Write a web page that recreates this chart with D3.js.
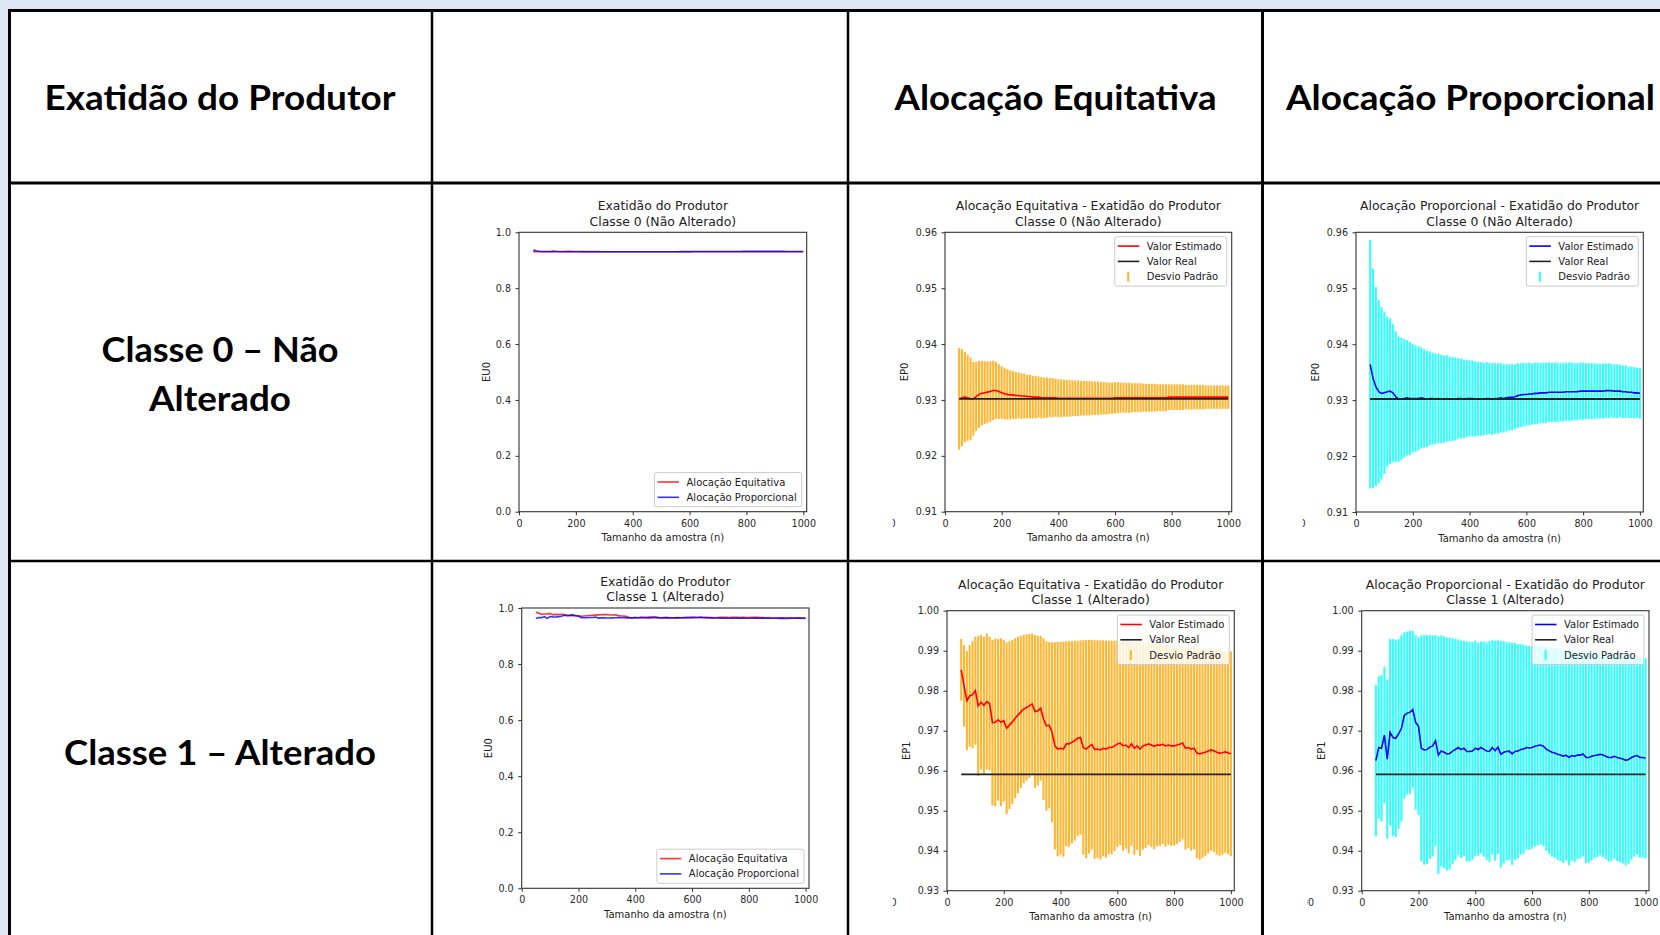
<!DOCTYPE html>
<html>
<head>
<meta charset="utf-8">
<script src="https://cdn.jsdelivr.net/npm/d3@7"></script>
<style>
  body { margin: 0; background: #dde8f4; overflow: hidden; }
</style>
</head>
<body>
<div id="viz-container"></div>
<script>
console.log('js loaded');

// ---------- data ----------
let sampleSizes = [50,60,70,80,90,100,110,120,130,140,
  150,160,170,180,190,200,210,220,230,240,
  250,260,270,280,290,300,310,320,330,340,
  350,360,370,380,390,400,410,420,430,440,
  450,460,470,480,490,500,510,520,530,540,
  550,560,570,580,590,600,610,620,630,640,
  650,660,670,680,690,700,710,720,730,740,
  750,760,770,780,790,800,810,820,830,840,
  850,860,870,880,890,900,910,920,930,940,
  950,960,970,980,990,1000];

// classe 0, alocação equitativa
let eqMean0 = [.9302,.9304,.9305,.9304,.9302,.9302,.9306,.9310,.9312,.9313,
  .9314,.9315,.9317,.9317,.9315,.9313,.9311,.9310,.9309,.9309,
  .9308,.9308,.9307,.9307,.9306,.9306,.9305,.9305,.9305,.9304,
  .9304,.9304,.9304,.9304,.9304,.9303,.9303,.9303,.9303,.9303,
  .9303,.9303,.9303,.9303,.9303,.9303,.9303,.9303,.9303,.9303,
  .9303,.9303,.9303,.9303,.9303,.9304,.9304,.9304,.9304,.9304,
  .9304,.9304,.9304,.9304,.9304,.9304,.9304,.9304,.9304,.9304,
  .9304,.9304,.9304,.9304,.9305,.9305,.9305,.9305,.9305,.9305,
  .9305,.9305,.9305,.9305,.9305,.9305,.9305,.9305,.9305,.9305,
  .9305,.9305,.9305,.9305,.9305,.9305];
let eqStd0 = [.0091,.0087,.0081,.0077,.0074,.0066,.0062,.0060,.0058,.0056,
  .0055,.0054,.0053,.0051,.0049,.0047,.0046,.0045,.0044,.0043,
  .0042,.0041,.0041,.0040,.0039,.0039,.0038,.0038,.0037,.0037,
  .0036,.0036,.0035,.0035,.0034,.0034,.0034,.0033,.0033,.0033,
  .0032,.0032,.0032,.0031,.0031,.0031,.0031,.0030,.0030,.0030,
  .0029,.0029,.0029,.0028,.0028,.0028,.0028,.0027,.0027,.0027,
  .0027,.0026,.0026,.0026,.0026,.0025,.0025,.0025,.0025,.0025,
  .0024,.0024,.0024,.0024,.0023,.0023,.0023,.0023,.0023,.0023,
  .0022,.0022,.0022,.0022,.0022,.0022,.0022,.0021,.0021,.0021,
  .0021,.0021,.0021,.0021,.0021,.0021];

// classe 0, alocação proporcional
let propMean0 = [.9364,.9339,.9324,.9315,.9312,.9313,.9315,.9316,.9313,.9306,
  .9302,.9302,.9303,.9304,.9303,.9303,.9303,.9303,.9304,.9303,
  .9302,.9303,.9303,.9302,.9303,.9302,.9302,.9303,.9302,.9302,
  .9302,.9303,.9303,.9302,.9303,.9303,.9303,.9302,.9302,.9302,
  .9302,.9303,.9303,.9302,.9303,.9303,.9304,.9303,.9304,.9305,
  .9305,.9306,.9308,.9309,.9310,.9310,.9311,.9311,.9312,.9312,
  .9313,.9313,.9313,.9314,.9314,.9314,.9314,.9314,.9314,.9315,
  .9315,.9315,.9315,.9315,.9316,.9316,.9316,.9316,.9316,.9316,
  .9316,.9316,.9316,.9317,.9317,.9317,.9316,.9316,.9316,.9315,
  .9315,.9314,.9314,.9313,.9313,.9312];
let propStd0 = [.0222,.0196,.0178,.0164,.0154,.0145,.0134,.0130,.0123,.0117,
  .0112,.0109,.0106,.0103,.0101,.0097,.0095,.0093,.0090,.0088,
  .0086,.0084,.0082,.0081,.0080,.0079,.0078,.0077,.0076,.0075,
  .0074,.0072,.0071,.0070,.0069,.0068,.0068,.0067,.0066,.0066,
  .0065,.0065,.0064,.0064,.0063,.0063,.0062,.0061,.0060,.0059,
  .0059,.0058,.0058,.0057,.0057,.0056,.0056,.0055,.0055,.0055,
  .0054,.0054,.0054,.0053,.0053,.0053,.0053,.0052,.0052,.0052,
  .0052,.0052,.0051,.0051,.0051,.0051,.0050,.0050,.0050,.0050,
  .0049,.0049,.0049,.0049,.0049,.0048,.0048,.0048,.0047,.0047,
  .0047,.0046,.0046,.0046,.0045,.0045];

// classe 1, alocação equitativa
let eqMean1 = [.9852,.9812,.9775,.9787,.9790,.9800,.9762,.9771,.9763,.9773,
  .9768,.9720,.9721,.9727,.9721,.9725,.9706,.9714,.9722,.9731,
  .9739,.9747,.9754,.9758,.9762,.9767,.9748,.9750,.9756,.9729,
  .9712,.9714,.9696,.9662,.9654,.9656,.9654,.9667,.9667,.9671,
  .9675,.9681,.9683,.9658,.9654,.9660,.9665,.9653,.9654,.9652,
  .9656,.9654,.9658,.9658,.9662,.9667,.9669,.9662,.9664,.9658,
  .9667,.9656,.9662,.9654,.9662,.9664,.9667,.9664,.9661,.9664,
  .9664,.9666,.9662,.9664,.9662,.9662,.9664,.9666,.9669,.9656,
  .9658,.9654,.9656,.9644,.9642,.9644,.9646,.9649,.9652,.9650,
  .9646,.9644,.9645,.9647,.9645,.9642];
let eqStd1 = [.0077,.0102,.0124,.0127,.0134,.0135,.0175,.0168,.0172,.0170,
  .0167,.0207,.0210,.0202,.0210,.0202,.0215,.0210,.0205,.0200,
  .0196,.0190,.0185,.0183,.0180,.0176,.0191,.0187,.0181,.0202,
  .0212,.0208,.0225,.0259,.0268,.0266,.0269,.0256,.0257,.0253,
  .0250,.0244,.0243,.0268,.0273,.0267,.0262,.0273,.0272,.0274,
  .0270,.0271,.0267,.0267,.0263,.0258,.0255,.0262,.0259,.0265,
  .0255,.0266,.0260,.0267,.0259,.0257,.0253,.0255,.0257,.0253,
  .0252,.0249,.0252,.0249,.0250,.0249,.0247,.0244,.0241,.0253,
  .0251,.0254,.0252,.0263,.0265,.0262,.0259,.0256,.0252,.0253,
  .0256,.0257,.0255,.0252,.0254,.0256];

// classe 1, alocação proporcional
let propMean1 = [.9625,.9658,.9656,.9689,.9629,.9696,.9683,.9681,.9692,.9706,
  .9738,.9744,.9746,.9753,.9721,.9711,.9656,.9652,.9653,.9659,
  .9662,.9675,.9639,.9649,.9646,.9642,.9643,.9649,.9653,.9658,
  .9653,.9656,.9648,.9648,.9649,.9656,.9653,.9658,.9654,.9649,
  .9648,.9658,.9650,.9659,.9641,.9646,.9648,.9649,.9642,.9648,
  .9649,.9653,.9654,.9658,.9657,.9658,.9661,.9663,.9664,.9661,
  .9654,.9650,.9646,.9644,.9641,.9639,.9636,.9639,.9633,.9638,
  .9636,.9639,.9639,.9642,.9633,.9633,.9636,.9638,.9639,.9641,
  .9639,.9636,.9633,.9633,.9636,.9633,.9631,.9629,.9626,.9628,
  .9633,.9636,.9638,.9633,.9633,.9631];
let propStd1 = [.0189,.0178,.0183,.0171,.0199,.0233,.0246,.0247,.0237,.0233,
  .0208,.0204,.0204,.0197,.0218,.0222,.0282,.0287,.0286,.0280,
  .0276,.0264,.0297,.0289,.0290,.0291,.0290,.0282,.0276,.0270,
  .0272,.0269,.0275,.0275,.0272,.0269,.0266,.0265,.0269,.0272,
  .0276,.0268,.0275,.0267,.0283,.0278,.0273,.0272,.0278,.0271,
  .0268,.0263,.0261,.0255,.0255,.0253,.0251,.0250,.0248,.0250,
  .0254,.0258,.0261,.0262,.0264,.0265,.0267,.0263,.0269,.0263,
  .0264,.0260,.0259,.0256,.0264,.0263,.0260,.0257,.0256,.0253,
  .0255,.0257,.0260,.0259,.0256,.0259,.0260,.0261,.0263,.0261,
  .0255,.0251,.0248,.0251,.0250,.0250];

let realEP0 = 0.9302;
let realEP1 = 0.9591;

let xTicks = [0, 200, 400, 600, 800, 1000];
let yTicksEU = [0, 0.2, 0.4, 0.6, 0.8, 1.0];
let yTicksEP0 = [0.91, 0.92, 0.93, 0.94, 0.95, 0.96];
let yTicksEP1 = [0.93, 0.94, 0.95, 0.96, 0.97, 0.98, 0.99, 1.00];

let columnHeaders = ['Exatidão do Produtor', 'Alocação Equitativa', 'Alocação Proporcional'];
let rowLabels = [['Classe 0 – Não', 'Alterado'], ['Classe 1 – Alterado']];
let compareLabels = ['Alocação Equitativa', 'Alocação Proporcional'];
let detailLabels = ['Valor Estimado', 'Valor Real', 'Desvio Padrão'];
let panelTitles = [
  ['Exatidão do Produtor', 'Classe 0 (Não Alterado)'],
  ['Alocação Equitativa - Exatidão do Produtor', 'Classe 0 (Não Alterado)'],
  ['Alocação Proporcional - Exatidão do Produtor', 'Classe 0 (Não Alterado)'],
  ['Exatidão do Produtor', 'Classe 1 (Alterado)'],
  ['Alocação Equitativa - Exatidão do Produtor', 'Classe 1 (Alterado)'],
  ['Alocação Proporcional - Exatidão do Produtor', 'Classe 1 (Alterado)']
];

// ---------- page ----------
let width = 1660;
let height = 935;
let mplFont = 'DejaVu Sans';

let viz = d3.select('#viz-container')
  .append('svg')
  .attr('width', width)
  .attr('height', height)
  .style('display', 'block');

viz.append('rect').attr('width', width).attr('height', height).attr('fill', '#dde8f4');
viz.append('rect').attr('x', 9).attr('y', 10).attr('width', width).attr('height', height).attr('fill', 'white');

// big table labels, squeezed to the width they take in the slide
function bigText(str, cx, cy, w) {
  viz.append('text')
    .text(str)
    .attr('x', cx)
    .attr('y', cy + 12.5)
    .attr('text-anchor', 'middle')
    .attr('font-family', 'Lato')
    .attr('font-weight', 700)
    .attr('font-size', 35)
    .attr('fill', 'black')
    .attr('textLength', w)
    .attr('lengthAdjust', 'spacingAndGlyphs');
}
bigText(columnHeaders[0], 220, 97, 351);
bigText(columnHeaders[1], 1055.5, 97, 322);
bigText(columnHeaders[2], 1470.5, 97, 369);
bigText(rowLabels[0][0], 220, 349, 237);
bigText(rowLabels[0][1], 220, 398, 142);
bigText(rowLabels[1][0], 220, 752, 312);

// ---------- charts ----------
let xMax = 1012;

function drawPanel(p) {
  let g = viz.append('g');
  let x = d3.scaleLinear().domain([0, xMax]).range([p.x0, p.x1]);
  let y = d3.scaleLinear().domain(p.dom).range([p.y1, p.y0]);

  if (p.std) {
    g.selectAll('.err').data(sampleSizes).enter()
      .append('line')
      .attr('class', 'err')
      .attr('x1', d => x(d))
      .attr('x2', d => x(d))
      .attr('y1', (d, i) => y(p.mean[i] - p.std[i]))
      .attr('y2', (d, i) => y(p.mean[i] + p.std[i]))
      .attr('stroke', p.errColor)
      .attr('stroke-opacity', 0.8)
      .attr('stroke-width', 2.1);
  }

  let line = d3.line()
    .x((d, i) => x(sampleSizes[i]))
    .y(d => y(d));

  p.lines.forEach(function(s) {
    g.append('path')
      .datum(s.values)
      .attr('d', line)
      .attr('fill', 'none')
      .attr('stroke', s.color)
      .attr('stroke-opacity', s.opacity || 1)
      .attr('stroke-width', 1.6);
  });

  if (p.real !== undefined) {
    g.append('line')
      .attr('x1', x(sampleSizes[0]))
      .attr('x2', x(sampleSizes[sampleSizes.length - 1]))
      .attr('y1', y(p.real))
      .attr('y2', y(p.real))
      .attr('stroke', '#222')
      .attr('stroke-width', 1.8);
  }

  // axes
  let gx = g.append('g')
    .attr('transform', 'translate(0,' + p.y1 + ')')
    .call(d3.axisBottom(x).tickValues(xTicks).tickFormat(d3.format('d'))
      .tickSize(3.5).tickSizeOuter(0).tickPadding(4.5));
  let gy = g.append('g')
    .attr('transform', 'translate(' + p.x0 + ',0)')
    .call(d3.axisLeft(y).tickValues(p.ticks).tickFormat(d3.format(p.fmt))
      .tickSize(3.5).tickSizeOuter(0).tickPadding(4.5));
  [gx, gy].forEach(function(a) {
    a.select('.domain').remove();
    a.selectAll('line').attr('stroke', '#333');
    a.selectAll('text')
      .attr('font-family', mplFont)
      .attr('font-size', 9.6)
      .attr('fill', '#2a2a2a');
  });

  g.append('rect')
    .attr('x', p.x0).attr('y', p.y0)
    .attr('width', p.x1 - p.x0).attr('height', p.y1 - p.y0)
    .attr('fill', 'none')
    .attr('stroke', '#333')
    .attr('stroke-width', 1.1);

  // titles and labels
  p.title.forEach(function(t, i) {
    g.append('text')
      .text(t)
      .attr('x', (p.x0 + p.x1) / 2)
      .attr('y', p.y0 - 26.5 + i * 15.2)
      .attr('text-anchor', 'middle')
      .attr('dominant-baseline', 'central')
      .attr('font-family', mplFont)
      .attr('font-size', 12.4)
      .attr('fill', '#222');
  });

  g.append('text')
    .text('Tamanho da amostra (n)')
    .attr('x', (p.x0 + p.x1) / 2)
    .attr('y', p.y1 + 26)
    .attr('text-anchor', 'middle')
    .attr('dominant-baseline', 'central')
    .attr('font-family', mplFont)
    .attr('font-size', 10)
    .attr('fill', '#222');

  let ly = (p.y0 + p.y1) / 2;
  g.append('text')
    .text(p.ylab)
    .attr('transform', 'translate(' + (p.x0 - p.ylabOff) + ',' + ly + ') rotate(-90)')
    .attr('text-anchor', 'middle')
    .attr('dominant-baseline', 'central')
    .attr('font-family', mplFont)
    .attr('font-size', 10)
    .attr('fill', '#222');

  drawLegend(g, p);
}

function drawLegend(g, p) {
  let items = p.legend;
  let lg = g.append('g');
  let box = lg.append('rect');
  let maxW = 0;
  let rowH = 15.3;
  let boxH = items.length * rowH + 3.5;
  let texts = items.map(function(it) {
    let t = lg.append('text')
      .text(it.label)
      .attr('dominant-baseline', 'central')
      .attr('font-family', mplFont)
      .attr('font-size', 10)
      .attr('fill', '#222');
    maxW = Math.max(maxW, t.node().getComputedTextLength());
    return t;
  });
  let boxW = 37 + maxW;
  let right = p.x1 - 5;
  let left = right - boxW;
  let top = p.legendPos === 'lower' ? p.y1 - 5 - boxH : p.y0 + 4.4;

  box.attr('x', left).attr('y', top)
    .attr('width', boxW).attr('height', boxH)
    .attr('rx', 2)
    .attr('fill', 'white').attr('fill-opacity', 0.8)
    .attr('stroke', '#cccccc').attr('stroke-width', 1);

  items.forEach(function(it, i) {
    let cy = top + 9.4 + i * rowH;
    texts[i].attr('x', left + 32).attr('y', cy);
    if (it.type === 'err') {
      lg.append('line')
        .attr('x1', left + 13.5).attr('x2', left + 13.5)
        .attr('y1', cy - 5).attr('y2', cy + 5)
        .attr('stroke', it.color).attr('stroke-opacity', 0.8).attr('stroke-width', 2.1);
    } else {
      lg.append('line')
        .attr('x1', left + 3).attr('x2', left + 24.5)
        .attr('y1', cy).attr('y2', cy)
        .attr('stroke', it.color).attr('stroke-opacity', it.opacity || 1).attr('stroke-width', 1.6);
    }
  });
}

let panels = [
  {x0: 519, x1: 806.7, y0: 232.3, y1: 511.7, dom: [0, 1], ticks: yTicksEU, fmt: '.1f',
    title: panelTitles[0], ylab: 'EU0', ylabOff: 33,
    lines: [{values: eqMean0, color: 'red', opacity: 0.8}, {values: propMean0, color: 'blue', opacity: 0.8}],
    legendPos: 'lower',
    legend: [{label: compareLabels[0], color: 'red', opacity: 0.8}, {label: compareLabels[1], color: 'blue', opacity: 0.8}]},
  {x0: 945, x1: 1231.7, y0: 232.3, y1: 511.7, dom: [0.91, 0.96], ticks: yTicksEP0, fmt: '.2f',
    title: panelTitles[1], ylab: 'EP0', ylabOff: 40.5,
    mean: eqMean0, std: eqStd0, errColor: 'orange', real: realEP0,
    lines: [{values: eqMean0, color: 'red'}],
    legendPos: 'upper',
    legend: [{label: detailLabels[0], color: 'red'}, {label: detailLabels[1], color: '#222'}, {label: detailLabels[2], color: 'orange', type: 'err'}]},
  {x0: 1356, x1: 1643.3, y0: 232.3, y1: 512, dom: [0.91, 0.96], ticks: yTicksEP0, fmt: '.2f',
    title: panelTitles[2], ylab: 'EP0', ylabOff: 40.5,
    mean: propMean0, std: propStd0, errColor: 'cyan', real: realEP0,
    lines: [{values: propMean0, color: 'blue'}],
    legendPos: 'upper',
    legend: [{label: detailLabels[0], color: 'blue'}, {label: detailLabels[1], color: '#222'}, {label: detailLabels[2], color: 'cyan', type: 'err'}]},
  {x0: 521.7, x1: 809, y0: 608, y1: 888.3, dom: [0, 1], ticks: yTicksEU, fmt: '.1f',
    title: panelTitles[3], ylab: 'EU0', ylabOff: 33,
    lines: [{values: eqMean1, color: 'red', opacity: 0.8}, {values: propMean1, color: 'blue', opacity: 0.8}],
    legendPos: 'lower',
    legend: [{label: compareLabels[0], color: 'red', opacity: 0.8}, {label: compareLabels[1], color: 'blue', opacity: 0.8}]},
  {x0: 947, x1: 1234.3, y0: 610.7, y1: 890.7, dom: [0.93, 1.0], ticks: yTicksEP1, fmt: '.2f',
    title: panelTitles[4], ylab: 'EP1', ylabOff: 40.5,
    mean: eqMean1, std: eqStd1, errColor: 'orange', real: realEP1,
    lines: [{values: eqMean1, color: 'red'}],
    legendPos: 'upper',
    legend: [{label: detailLabels[0], color: 'red'}, {label: detailLabels[1], color: '#222'}, {label: detailLabels[2], color: 'orange', type: 'err'}]},
  {x0: 1361.7, x1: 1649, y0: 610.7, y1: 890.7, dom: [0.93, 1.0], ticks: yTicksEP1, fmt: '.2f',
    title: panelTitles[5], ylab: 'EP1', ylabOff: 40,
    mean: propMean1, std: propStd1, errColor: 'cyan', real: realEP1,
    lines: [{values: propMean1, color: 'blue'}],
    legendPos: 'upper',
    legend: [{label: detailLabels[0], color: 'blue'}, {label: detailLabels[1], color: '#222'}, {label: detailLabels[2], color: 'cyan', type: 'err'}]}
];

panels.forEach(drawPanel);

// bits of neighbouring subplots that were cropped into the pasted pictures
let defs = viz.append('defs');
function stray(str, x, y, rot, clipX0, clipX1, id) {
  defs.append('clipPath').attr('id', id)
    .append('rect').attr('x', clipX0).attr('y', y - 30).attr('width', clipX1 - clipX0).attr('height', 60);
  let t = viz.append('text')
    .text(str)
    .attr('clip-path', 'url(#' + id + ')')
    .attr('font-family', mplFont)
    .attr('font-size', rot ? 10 : 9.6)
    .attr('fill', '#2a2a2a')
    .attr('dominant-baseline', 'central');
  if (rot) {
    t.attr('transform', 'translate(' + x + ',' + y + ') rotate(-90)').attr('text-anchor', 'middle');
  } else {
    t.attr('x', x).attr('y', y).attr('text-anchor', 'end');
  }
}
stray('EP0', 823, 375, true, 800, 823.3, 'c1');
stray('EP1', 823, 752, true, 800, 823.3, 'c2');
stray('1000', 895.7, 523, false, 892.7, 900, 'c3');
stray('1000', 1305.7, 523, false, 1302.7, 1310, 'c4');
stray('1000', 896.5, 902, false, 893, 900, 'c5');
stray('1000', 1314, 902, false, 1307, 1320, 'c6');

// table rules
let hRules = [{y: 10.5, w: 3}, {y: 183, w: 3}, {y: 561, w: 2.5}];
let vRules = [{x: 9.5, w: 3}, {x: 432, w: 2.5}, {x: 848, w: 2.5}, {x: 1262.5, w: 3}];
hRules.forEach(function(r) {
  viz.append('line').attr('x1', 8).attr('x2', width).attr('y1', r.y).attr('y2', r.y)
    .attr('stroke', 'black').attr('stroke-width', r.w);
});
vRules.forEach(function(r) {
  viz.append('line').attr('x1', r.x).attr('x2', r.x).attr('y1', 9).attr('y2', height)
    .attr('stroke', 'black').attr('stroke-width', r.w);
});
</script>
</body>
</html>
